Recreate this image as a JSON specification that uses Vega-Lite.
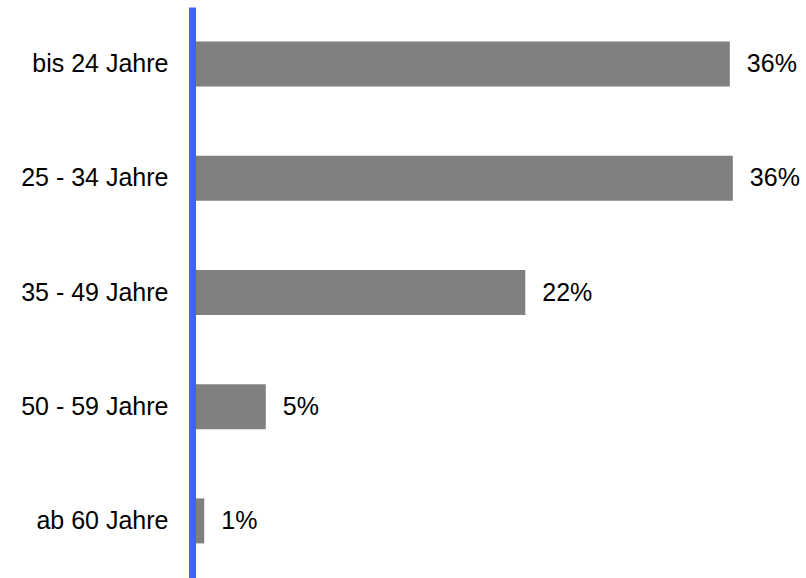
{
  "$schema": "https://vega.github.io/schema/vega-lite/v6.json",
  "autosize": "none",
  "padding": {"left": 192, "top": 7, "right": 8, "bottom": 0},
  "width": 606,
  "height": 571,
  "config": {
    "view": {"stroke": null},
    "font": "Liberation Sans"
  },
  "data": {
    "values": [
      {"age": "bis 24 Jahre", "share": 0.355},
      {"age": "25 - 34 Jahre", "share": 0.357},
      {"age": "35 - 49 Jahre", "share": 0.22},
      {"age": "50 - 59 Jahre", "share": 0.0487},
      {"age": "ab 60 Jahre", "share": 0.0081}
    ]
  },
  "encoding": {
    "y": {
      "field": "age",
      "type": "nominal",
      "sort": null,
      "title": null,
      "scale": {"paddingInner": 0.606, "paddingOuter": 0.303},
      "axis": {
        "domainColor": "#4262ff",
        "domainWidth": 7,
        "zindex": 1,
        "ticks": false,
        "tickSize": 0,
        "labelPadding": 24,
        "labelFontSize": 25,
        "labelColor": "#000000",
        "labelFont": "Liberation Sans"
      }
    },
    "x": {
      "field": "share",
      "type": "quantitative",
      "scale": {"domain": [0, 0.4], "nice": false},
      "axis": null
    }
  },
  "layer": [
    {"mark": {"type": "bar", "color": "#808080"}},
    {
      "mark": {"type": "text", "align": "left", "baseline": "middle", "dx": 17, "fontSize": 25, "color": "#000000"},
      "encoding": {"text": {"field": "share", "type": "quantitative", "format": ".0%"}}
    }
  ]
}
